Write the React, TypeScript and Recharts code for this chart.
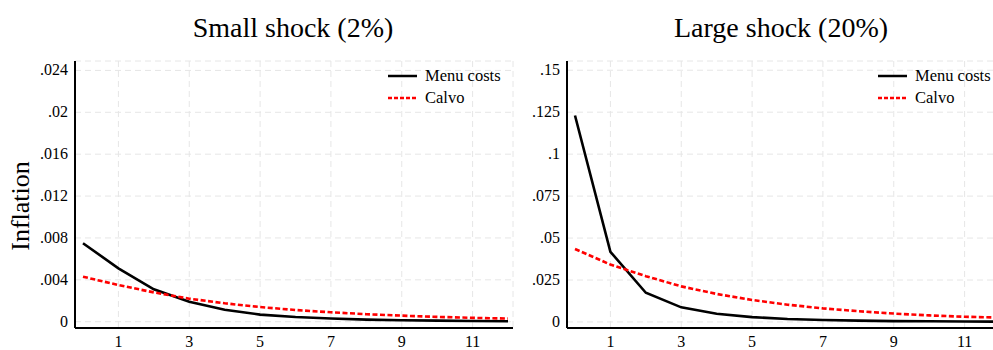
import React from "react";
import { LineChart, Line, XAxis, YAxis, CartesianGrid, Legend } from "recharts";

const periods = [0, 1, 2, 3, 4, 5, 6, 7, 8, 9, 10, 11, 12];
const xTicks = [1, 3, 5, 7, 9, 11];

const smallMenu = [0.0075, 0.0051, 0.0031, 0.0019, 0.00114, 0.00068, 0.00045, 0.0003, 0.0002, 0.00014, 0.0001, 0.00007, 0.00005];
const smallCalvo = [0.0043, 0.0035, 0.0028, 0.0022, 0.00176, 0.0014, 0.00112, 0.0009, 0.00072, 0.00058, 0.00046, 0.00037, 0.0003];
const largeMenu = [0.123, 0.0418, 0.0174, 0.0087, 0.0049, 0.0029, 0.0018, 0.0012, 0.0008, 0.0005, 0.0004, 0.0003, 0.0002];
const largeCalvo = [0.0435, 0.0342, 0.0273, 0.0212, 0.0167, 0.0131, 0.0103, 0.0081, 0.0064, 0.005, 0.0039, 0.0031, 0.0026];

const smallTicks = [0, 0.004, 0.008, 0.012, 0.016, 0.02, 0.024];
const largeTicks = [0, 0.025, 0.05, 0.075, 0.1, 0.125, 0.15];

const titles = ["Small shock (2%)", "Large shock (20%)"];
const seriesNames = ["Menu costs", "Calvo"];
const yLabel = "Inflation";

const FONT = "Liberation Serif";

const fmt = (v: number) => (v === 0 ? "0" : String(v).replace(/^0\./, "."));

const build = (menu: number[], calvo: number[]) =>
  periods.map((p, i) => ({ t: p, menu: menu[i], calvo: calvo[i] }));

const renderXTick = (props: any) => {
  const { x, y, payload } = props;
  return (
    <text key={`x-${payload.value}`} x={x} y={y + 10.5} textAnchor="middle" fill="#000" fontFamily={FONT} fontSize={16} style={{ fontFamily: FONT }}>
      {payload.value}
    </text>
  );
};

const renderYTick = (props: any) => {
  const { x, y, payload } = props;
  return (
    <text key={`y-${payload.value}`} x={x + 1} y={y + 5} textAnchor="end" fill="#000" fontFamily={FONT} fontSize={16} style={{ fontFamily: FONT }}>
      {fmt(payload.value)}
    </text>
  );
};

const LegendBox = () => (
  <div style={{ fontFamily: FONT, fontSize: 16.5, color: "#000", lineHeight: "22px" }}>
    {seriesNames.map((n, i) => (
      <div key={n} style={{ display: "flex", alignItems: "center", height: 22 }}>
        <svg width={37} height={22}>
          <line
            x1={0}
            x2={29}
            y1={11}
            y2={11}
            stroke={i === 0 ? "#000" : "#ff0000"}
            strokeWidth={2.5}
            strokeDasharray={i === 0 ? undefined : "4 2"}
          />
        </svg>
        <span style={{ fontFamily: FONT, whiteSpace: "nowrap" }}>{n}</span>
      </div>
    ))}
  </div>
);

type PanelProps = {
  data: { t: number; menu: number; calvo: number }[];
  domain: [number, number];
  ticks: number[];
  left: number;
  legendLeft: number;
};

const Panel = ({ data, domain, ticks, left, legendLeft }: PanelProps) => (
  <div style={{ position: "absolute", left, top: 0 }}>
    <LineChart width={520} height={350} data={data} margin={{ top: 61, right: 7, bottom: 0, left: 0 }} style={{ fontFamily: FONT }}>
      <CartesianGrid stroke="#e6e6e6" strokeDasharray="6 4" />
      <XAxis
        dataKey="t"
        type="number"
        domain={[0, 12]}
        ticks={xTicks}
        padding={{ left: 8, right: 5 }}
        tickLine={false}
        axisLine={{ stroke: "#000", strokeWidth: 2 }}
        tick={renderXTick}
        height={22}
        interval={0}
      />
      <XAxis xAxisId="top" orientation="top" dataKey="t" type="number" domain={[0, 12]} height={0} tick={false} tickLine={false} axisLine={{ stroke: "#000", strokeWidth: 2 }} />
      <YAxis
        type="number"
        domain={domain}
        ticks={ticks}
        tickLine={false}
        axisLine={{ stroke: "#000", strokeWidth: 2 }}
        tick={renderYTick}
        width={75}
        interval={0}
        allowDataOverflow
      />
      <YAxis yAxisId="r" orientation="right" type="number" domain={domain} width={0} tick={false} tickLine={false} axisLine={{ stroke: "#000", strokeWidth: 2 }} />
      <Line type="linear" dataKey="menu" stroke="#000" strokeWidth={2.6} dot={false} isAnimationActive={false} />
      <Line type="linear" dataKey="calvo" stroke="#ff0000" strokeWidth={2.6} strokeDasharray="5 2.5" dot={false} isAnimationActive={false} />
      <Legend
        layout="vertical"
        align="center"
        verticalAlign="middle"
        content={() => <LegendBox />}
        wrapperStyle={{ top: 65, left: legendLeft, width: "auto" }}
      />
    </LineChart>
  </div>
);

export default function App() {
  return (
    <div style={{ position: "fixed", left: 0, top: 0, width: 993, height: 350, overflow: "hidden", background: "#fff", fontFamily: FONT }}>
      <div style={{ position: "absolute", left: 93, width: 400, top: 10, textAlign: "center", fontSize: 28, lineHeight: "36px" }}>{titles[0]}</div>
      <div style={{ position: "absolute", left: 581, width: 400, top: 10, textAlign: "center", fontSize: 28, lineHeight: "36px" }}>{titles[1]}</div>
      <div
        style={{
          position: "absolute",
          left: 21,
          top: 206,
          transform: "translate(-50%, -50%) rotate(-90deg)",
          fontSize: 26,
          whiteSpace: "nowrap",
        }}
      >
        {yLabel}
      </div>
      <Panel data={build(smallMenu, smallCalvo)} domain={[-0.0006, 0.0249]} ticks={smallTicks} left={0} legendLeft={388} />
      <Panel data={build(largeMenu, largeCalvo)} domain={[-0.0036, 0.1555]} ticks={largeTicks} left={492} legendLeft={386} />
    </div>
  );
}
